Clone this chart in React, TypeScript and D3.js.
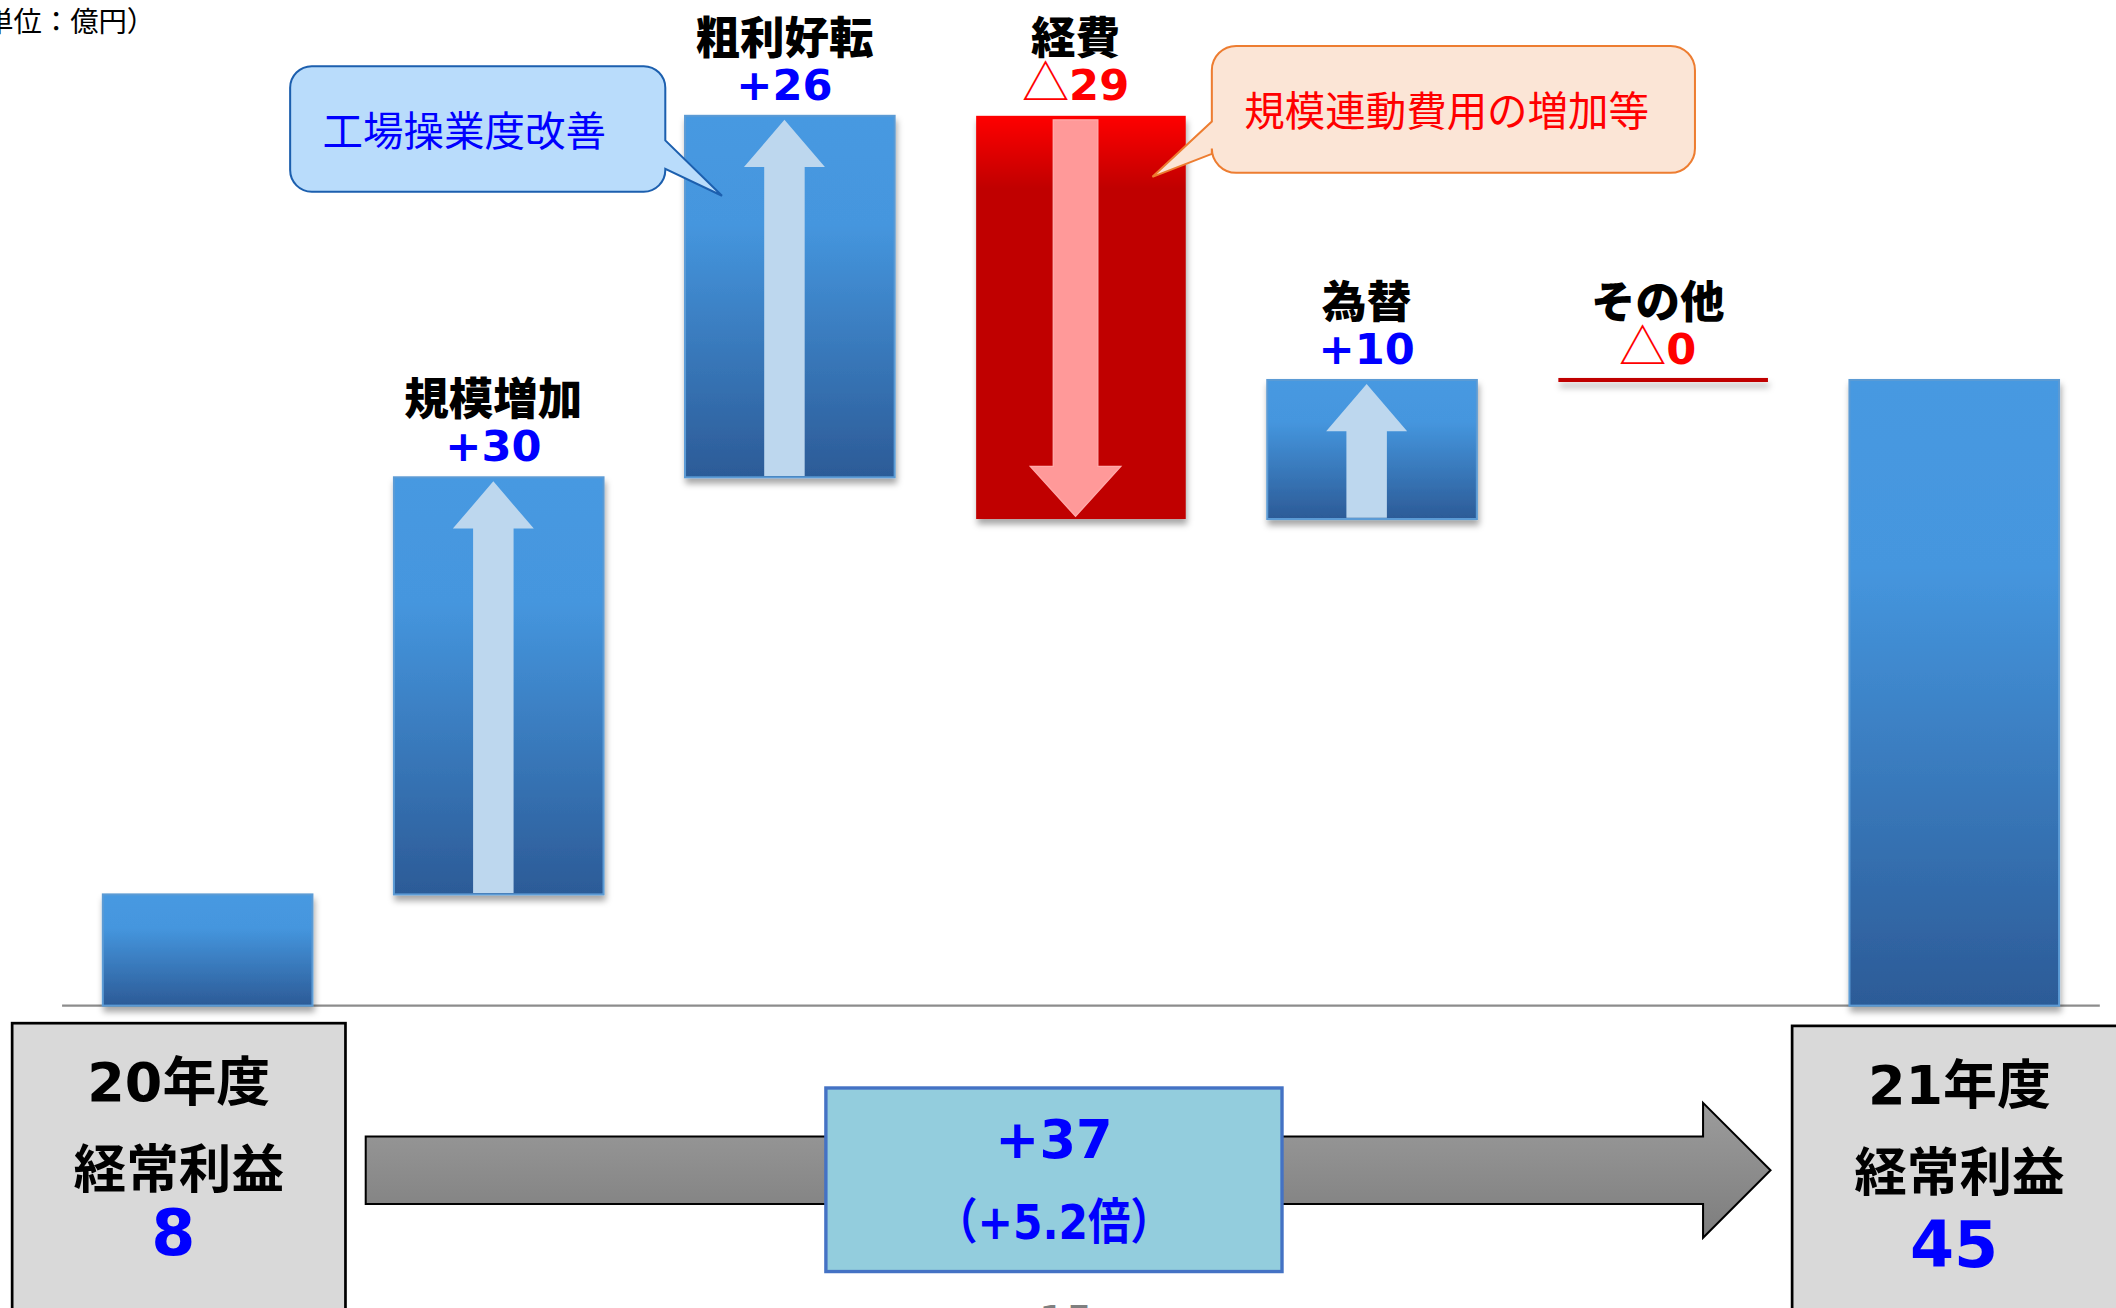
import * as d3 from 'd3';

// waterfall data (億円)
const categories = ['20年度', '規模増加', '粗利好転', '経費', '為替', 'その他', '21年度'];
const changes = [8, 30, 26, -29, 10, 0, 45];
const valueLabels = ['8', '+30', '+26', '△29', '+10', '△0', '45'];
const kinds = ['total', 'up', 'up', 'down', 'up', 'flat', 'total'];
const calloutTexts = ['工場操業度改善', '規模連動費用の増加等'];
const totalYears = ['20年度', '21年度'];
const totalTitle = '経常利益';
const summaryLines = ['+37', '（+5.2倍）'];
const unitLabel = '（単位：億円）';

const CJK = "'Noto Sans CJK JP', sans-serif";
const NUM = "'DejaVu Sans', 'Noto Sans CJK JP', sans-serif";
const BLUE = '#0000ff';
const RED = '#ff0000';

const W = 1568;
const H = 969;

const App = () => {
    let run = 0;
    const steps = categories.map((name, i) => {
        const kind = kinds[i];
        let y0: number, y1: number;
        if (kind === 'total') {
            y0 = 0;
            y1 = changes[i];
        } else {
            y0 = run;
            y1 = run + changes[i];
        }
        run = y1;
        return { name, kind, y0, y1, label: valueLabels[i] };
    });

    const x = d3.scaleBand()
        .domain(categories)
        .range([46, 1556])
        .paddingInner(0.28)
        .paddingOuter(0.14);

    const y = d3.scaleLinear()
        .domain([0, 45])
        .range([745, 281.5]);

    const bw = x.bandwidth();

    // block arrow inside a bar
    const arrowPath = (cx: number, top: number, bottom: number, dir: 'up' | 'down', shaft: number, head: number, headLen: number) => {
        const s = shaft / 2, h = head / 2;
        if (dir === 'up') {
            return `M${cx},${top} L${cx + h},${top + headLen} L${cx + s},${top + headLen} L${cx + s},${bottom} L${cx - s},${bottom} L${cx - s},${top + headLen} L${cx - h},${top + headLen} Z`;
        }
        return `M${cx - s},${top} L${cx + s},${top} L${cx + s},${bottom - headLen} L${cx + h},${bottom - headLen} L${cx},${bottom} L${cx - h},${bottom - headLen} L${cx - s},${bottom - headLen} Z`;
    };

    const first = steps[0];
    const last = steps[steps.length - 1];

    return (
        <svg
            width={2116}
            height={1308}
            viewBox={`0 0 ${W} ${H}`}
            preserveAspectRatio="none"
            style={{ position: 'absolute', left: 0, top: 0, background: '#fff' }}
        >
            <defs>
                <linearGradient id="blueBar" x1="0" y1="0" x2="0" y2="1">
                    <stop offset="0" stopColor="#4799e1" />
                    <stop offset="0.3" stopColor="#4596de" />
                    <stop offset="1" stopColor="#2c5b97" />
                </linearGradient>
                <linearGradient id="redBar" x1="0" y1="0" x2="0" y2="1">
                    <stop offset="0" stopColor="#ff0000" />
                    <stop offset="0.18" stopColor="#c00000" />
                    <stop offset="1" stopColor="#c00000" />
                </linearGradient>
                <linearGradient id="grayArrow" x1="0" y1="0" x2="0" y2="1">
                    <stop offset="0" stopColor="#9c9c9c" />
                    <stop offset="1" stopColor="#7d7d7d" />
                </linearGradient>
                <filter id="shadow" x="-20%" y="-20%" width="140%" height="140%">
                    <feDropShadow dx="1" dy="4" stdDeviation="2.5" floodColor="#000" floodOpacity="0.35" />
                </filter>
                <filter id="lineShadow" filterUnits="userSpaceOnUse" x="0" y="0" width={W} height={H}>
                    <feDropShadow dx="1" dy="4" stdDeviation="2.5" floodColor="#000" floodOpacity="0.3" />
                </filter>
            </defs>

            {/* unit */}
            <text x={115} y={24} textAnchor="end" fontFamily={CJK} fontSize={21} fill="#000">{unitLabel}</text>

            {/* baseline */}
            <line x1={46} x2={1556} y1={y(0)} y2={y(0)} stroke="#8c8c8c" strokeWidth={1.5} />

            {/* bars */}
            {steps.map((d, i) => {
                const x0 = x(d.name)!;
                const top = y(Math.max(d.y0, d.y1));
                const bottom = y(Math.min(d.y0, d.y1));
                const cx = x0 + bw / 2 - 4;
                if (d.kind === 'flat') {
                    return (
                        <rect key={i} x={x0} y={top - 1.5} width={bw} height={3}
                            fill="#c00000" filter="url(#lineShadow)" />
                    );
                }
                if (d.kind === 'down') {
                    return (
                        <g key={i}>
                            <rect x={x0} y={top} width={bw} height={bottom - top} fill="url(#redBar)" filter="url(#shadow)" />
                            <path d={arrowPath(cx, top + 3, bottom - 2, 'down', 33, 67, 37)} fill="#ff9999" stroke="#ffaaaa" strokeWidth={1} />
                        </g>
                    );
                }
                return (
                    <g key={i}>
                        <rect x={x0} y={top} width={bw} height={bottom - top} fill="url(#blueBar)"
                            stroke="#5b9bd5" strokeWidth={1.5} filter="url(#shadow)" />
                        {d.kind === 'up' && (
                            <path d={arrowPath(cx, top + 3, bottom - 1, 'up', 30, 60, 35)} fill="#bdd7ee" />
                        )}
                    </g>
                );
            })}

            {/* labels above change bars */}
            {steps.filter(d => d.kind !== 'total').map((d, i) => {
                const top = y(Math.max(d.y0, d.y1));
                const cx = x(d.name)! + bw / 2 - 4;
                const neg = d.label.startsWith('△');
                return (
                    <g key={i}>
                        <text x={cx} y={top - 46} textAnchor="middle" fontFamily={CJK} fontWeight={900} fontSize={33} fill="#000">{d.name}</text>
                        <text x={cx} y={top - 12} textAnchor="middle" fontFamily={NUM} fontWeight={700} fontSize={32} fill={neg ? RED : BLUE}>
                            {neg ? (
                                <>
                                    <tspan fontFamily={CJK} fontWeight={400} fontSize={35}>△</tspan>
                                    <tspan>{d.label.slice(1)}</tspan>
                                </>
                            ) : d.label}
                        </text>
                    </g>
                );
            })}

            {/* callout: 工場操業度改善 */}
            <path
                d="M231,49 H477 A16,16 0 0 1 493,65 V104 L535,145 L493,125 V126 A16,16 0 0 1 477,142 H231 A16,16 0 0 1 215,126 V65 A16,16 0 0 1 231,49 Z"
                fill="#b9dcfb" stroke="#1c5fae" strokeWidth={1.5}
            />
            <text x={344} y={108} textAnchor="middle" fontFamily={CJK} fontSize={30} fill={BLUE}>{calloutTexts[0]}</text>

            {/* callout: 規模連動費用の増加等 */}
            <path
                d="M916,34 H1238 A18,18 0 0 1 1256,52 V110 A18,18 0 0 1 1238,128 H916 A18,18 0 0 1 898,110 V114 L854,131 L898,90 V52 A18,18 0 0 1 916,34 Z"
                fill="#fbe5d6" stroke="#ed7d31" strokeWidth={1.5}
            />
            <text x={1072} y={93} textAnchor="middle" fontFamily={CJK} fontSize={30} fill={RED}>{calloutTexts[1]}</text>

            {/* bottom: total boxes */}
            {[{ b: first, yr: totalYears[0], x0: 9, x1: 256, t: 758 }, { b: last, yr: totalYears[1], x0: 1328, x1: 1600, t: 760 }].map((o, i) => {
                const cx = i === 0 ? (o.x0 + o.x1) / 2 : 1452;
                return (
                    <g key={i}>
                        <rect x={o.x0} y={o.t} width={o.x1 - o.x0} height={H - o.t + 20} fill="#d9d9d9" stroke="#000" strokeWidth={2} />
                        <text x={cx} y={o.t + 58} textAnchor="middle" fontFamily={NUM} fontWeight={700} fontSize={40} fill="#000">
                            <tspan>{o.yr.slice(0, 2)}</tspan>
                            <tspan fontFamily={CJK}>{o.yr.slice(2)}</tspan>
                        </text>
                        <text x={cx} y={o.t + 122} textAnchor="middle" fontFamily={CJK} fontWeight={700} fontSize={39} fill="#000">{totalTitle}</text>
                        <text x={cx - 4} y={o.t + (i === 0 ? 172 : 179)} textAnchor="middle" fontFamily={NUM} fontWeight={700} fontSize={47} fill={BLUE}>{o.b.label}</text>
                    </g>
                );
            })}

            {/* gray arrow */}
            <path d="M271,842 H1262 V817 L1312,867 L1262,917 V892 H271 Z" fill="url(#grayArrow)" stroke="#000" strokeWidth={1.5} />

            {/* summary box */}
            <rect x={612} y={806} width={338} height={136} fill="#93cddd" stroke="#4472c4" strokeWidth={2.5} />
            <text x={781} y={858} textAnchor="middle" fontFamily={NUM} fontWeight={700} fontSize={39} fill={BLUE}>{summaryLines[0]}</text>
            <text x={781} y={918} textAnchor="middle" fontFamily={NUM} fontWeight={700} fontSize={36} fill={BLUE}
                textLength={176} lengthAdjust="spacingAndGlyphs">{summaryLines[1]}</text>

            {/* page number (cut off) */}
            <text x={790} y={990} textAnchor="middle" fontFamily={NUM} fontSize={32} fill="#7f7f7f">15</text>
        </svg>
    );
};

export default App;
